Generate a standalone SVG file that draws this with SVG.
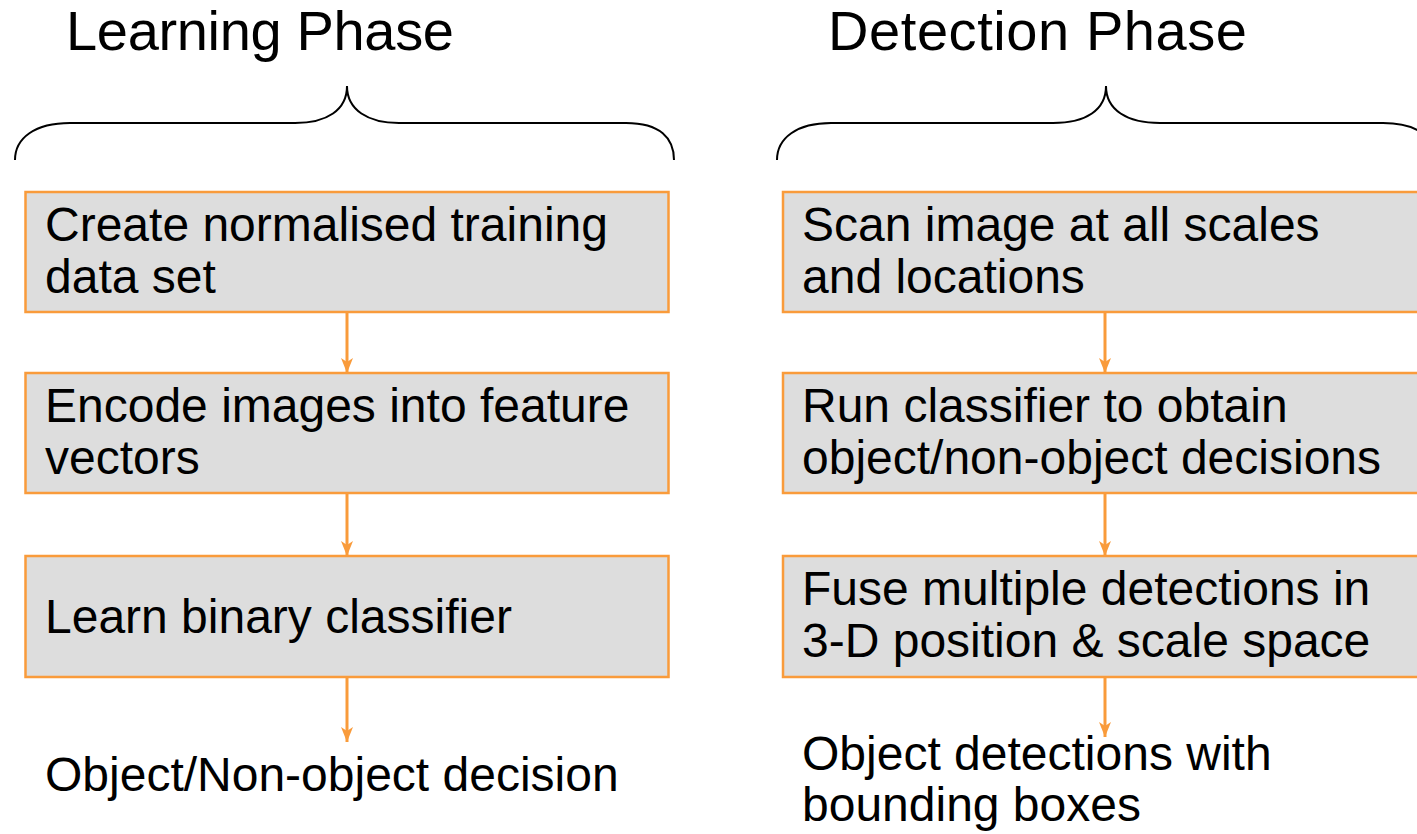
<svg xmlns="http://www.w3.org/2000/svg" width="1417" height="834" viewBox="0 0 1417 834">
<style>
.title{font-family:"Liberation Sans",Arial,sans-serif;font-size:56px;fill:#000}
.t{font-family:"Liberation Sans",Arial,sans-serif;font-size:48px;fill:#000}
.box{fill:#DDDDDD;stroke:#F99B3B;stroke-width:2.5}
.brace{fill:none;stroke:#000;stroke-width:2}
.conn{stroke:#F99B3B;stroke-width:3;fill:none}
</style>
<defs>
<marker id="ah" viewBox="0 0 15 12" refX="15" refY="6" markerWidth="15" markerHeight="12" markerUnits="userSpaceOnUse" orient="auto">
<path d="M0,0 L15,6 L0,12 L4,6 Z" fill="#F99B3B"/>
</marker>
</defs>
<rect width="1417" height="834" fill="#fff"/>
<g id="learning-title"><text class="title" x="66" y="50" textLength="388" lengthAdjust="spacing">Learning Phase</text></g>
<g id="detection-title"><text class="title" x="828" y="50" textLength="419" lengthAdjust="spacing">Detection Phase</text></g>
<g id="learning-brace"><path class="brace" d="M15,160 C15,138 35,123 70,123 L295,123 C327,123 347,110 347,86 C347,110 368,123 399,123 L626,123 C660,123 674,138 674,160"/></g>
<g id="detection-brace"><path class="brace" d="M777,160 C777,138 797,123 831,123 L1053,123 C1086,123 1106,110 1106,86 C1106,110 1127,123 1160,123 L1383,123 C1418,123 1436,138 1436,160"/></g>
<g id="connectors">
<line class="conn" x1="347" y1="312" x2="347" y2="373" marker-end="url(#ah)"/>
<line class="conn" x1="347" y1="493" x2="347" y2="556" marker-end="url(#ah)"/>
<line class="conn" x1="347" y1="677" x2="347" y2="742" marker-end="url(#ah)"/>
<line class="conn" x1="1105" y1="312" x2="1105" y2="373" marker-end="url(#ah)"/>
<line class="conn" x1="1105" y1="493" x2="1105" y2="556" marker-end="url(#ah)"/>
<line class="conn" x1="1105" y1="677" x2="1105" y2="737" marker-end="url(#ah)"/>
</g>
<g id="l1"><rect class="box" x="25.5" y="192" width="643" height="120"/><text class="t" x="45" y="241">Create normalised training</text><text class="t" x="45" y="293">data set</text></g>
<g id="l2"><rect class="box" x="25.5" y="373" width="643" height="120"/><text class="t" x="45" y="422">Encode images into feature</text><text class="t" x="45" y="474">vectors</text></g>
<g id="l3"><rect class="box" x="25.5" y="556" width="643" height="121"/><text class="t" x="45" y="633">Learn binary classifier</text></g>
<g id="l-out"><text class="t" x="45" y="791">Object/Non-object decision</text></g>
<g id="d1"><rect class="box" x="783" y="192" width="660" height="120"/><text class="t" x="802" y="241">Scan image at all scales</text><text class="t" x="802" y="293">and locations</text></g>
<g id="d2"><rect class="box" x="783" y="373" width="660" height="120"/><text class="t" x="802" y="422">Run classifier to obtain</text><text class="t" x="802" y="474">object/non-object decisions</text></g>
<g id="d3"><rect class="box" x="783" y="556" width="660" height="121"/><text class="t" x="802" y="605">Fuse multiple detections in</text><text class="t" x="802" y="657">3-D position &amp; scale space</text></g>
<g id="d-out"><text class="t" x="802" y="770">Object detections with</text><text class="t" x="802" y="821">bounding boxes</text></g>
</svg>
